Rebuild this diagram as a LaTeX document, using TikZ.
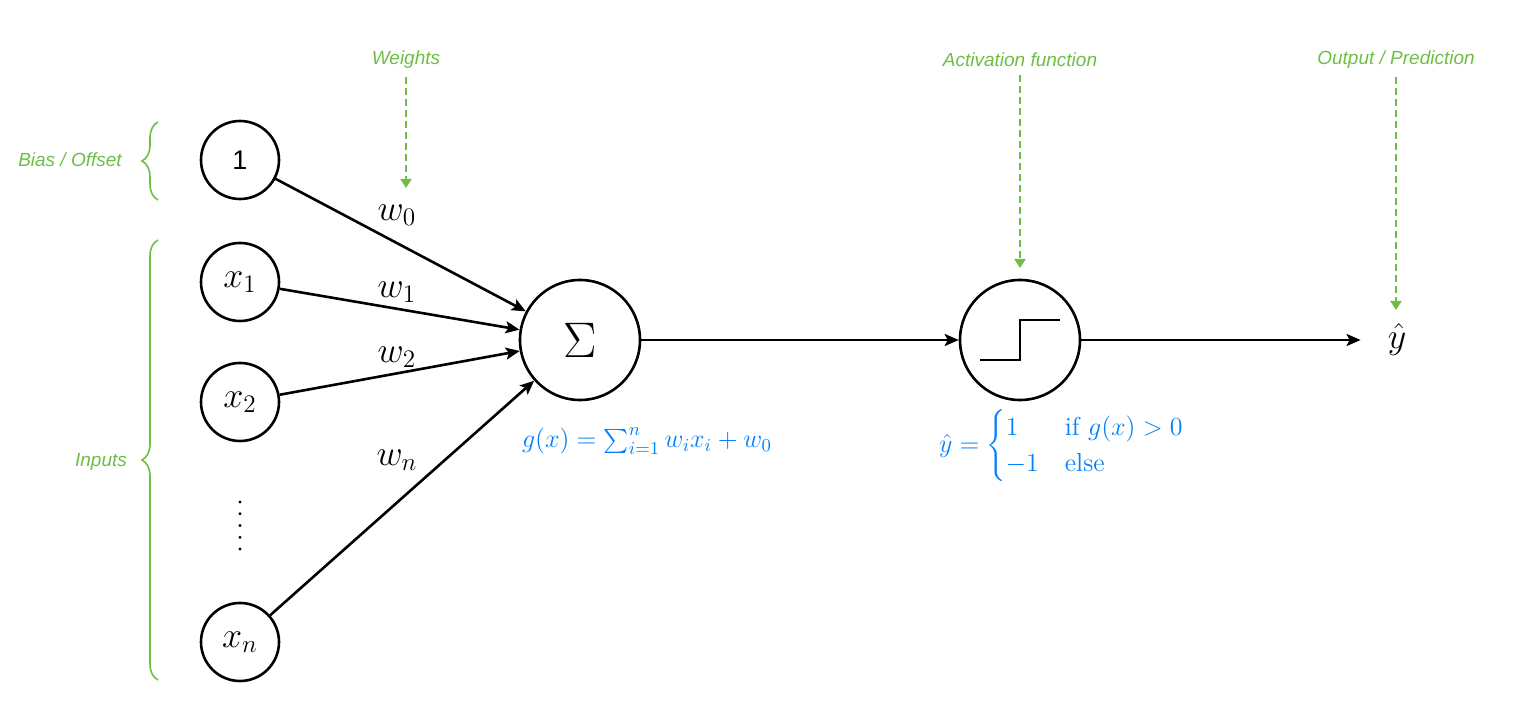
\RequirePackage{fix-cm}
\documentclass[tikz,border=0pt]{standalone}
\usepackage{amsmath}
\usepackage{fontspec}
\newfontfamily\helv{Liberation Sans}
\usepackage{tikz}
\usetikzlibrary{arrows.meta}
\usetikzlibrary{decorations.pathreplacing}
\definecolor{lgreen}{RGB}{110,190,70}
\definecolor{fblue}{RGB}{0,127,255}
\newcommand\mbig{\fontsize{18}{21}\selectfont}
\tikzstyle{neuron}=[circle,draw,line width=1.3pt,minimum size=39pt,inner sep=0pt,font=\mbig]
\tikzstyle{wt}=[line width=1.3pt,-{Stealth[length=7pt,width=6pt,inset=1.5pt]}]
\tikzstyle{note}=[text=lgreen,inner sep=4pt,font=\helv\itshape\fontsize{9.5}{11}\selectfont]
\tikzstyle{hint}=[draw=lgreen,line width=1pt,dash pattern=on 3.5pt off 2pt,-{Triangle[length=4.5pt,width=5.5pt]}]
\tikzstyle{grp}=[draw=lgreen,line width=.8pt,decorate,decoration={brace,amplitude=8pt}]
\tikzstyle{formula}=[text=fblue,font=\fontsize{13}{15}\selectfont]

\begin{document}
\begin{tikzpicture}[x=.5pt,y=-.5pt]
	\useasboundingbox (0,0) rectangle (1521,721);
	\node[neuron,font=\helv\fontsize{13.5}{15}\selectfont] (B) at (240,160) {1};
	\node[neuron] (X1) at (240,282) {$x_1$};
	\node[neuron] (X2) at (240,402) {$x_2$};
	\node[neuron] (Xn) at (240,642) {$x_n$};
	\foreach \y in {502,513.75,...,549} \fill (240,\y) circle (.85pt);
	\node[neuron,minimum size=60pt,font=\fontsize{25}{28}\selectfont] (S) at (580,340) {$\Sigma$};
	\node[neuron,minimum size=60pt] (F) at (1020,340) {};
	\draw[line width=1.3pt] ([shift={(-40,20)}]F.center) -- ++(40,0) -- ++(0,-40) -- ++(40,0);
	\node[font=\mbig,minimum width=36pt] (Y) at (1397,340) {$\hat y$};
	\draw[wt] (B) -- (S);
	\draw[wt] (X1) -- (S);
	\draw[wt] (X2) -- (S);
	\draw[wt] (Xn) -- (S);
	\draw[wt] (S) -- (F);
	\draw[wt] (F) -- (Y);
	\node[font=\mbig] at (397,215) {$w_0$};
	\node[font=\mbig] at (397,292) {$w_1$};
	\node[font=\mbig] at (397,357) {$w_2$};
	\node[font=\mbig] at (397,460) {$w_n$};
	\node[formula] (G) at (647,441) {$g(x) = \sum_{i=1}^n w_i x_i + w_0$};
	\node[formula] (H) at (1062,446) {$\hat y = \begin{cases} 1 & \text{if } g(x) > 0\\ -1 & \text{else}\end{cases}$};
	% annotations
	\node[note] (W) at (406,60) {Weights};
	\node[note] (A) at (1020,60) {Activation function};
	\node[note] (O) at (1396,60) {Output / Prediction};
	\coordinate (Wt) at (406,188);
	\coordinate (At) at (1020,268);
	\coordinate (Ot) at (1396,310);
	\draw[hint] (W) -- (Wt);
	\draw[hint] (A) -- (At);
	\draw[hint] (O) -- (Ot);
	\draw[grp] (158,200) -- (158,122);
	\draw[grp] (158,680) -- (158,240);
	\node[note] (Bl) at (70,160) {Bias / Offset};
	\node[note] (Il) at (101,462) {Inputs};
\end{tikzpicture}
\end{document}
